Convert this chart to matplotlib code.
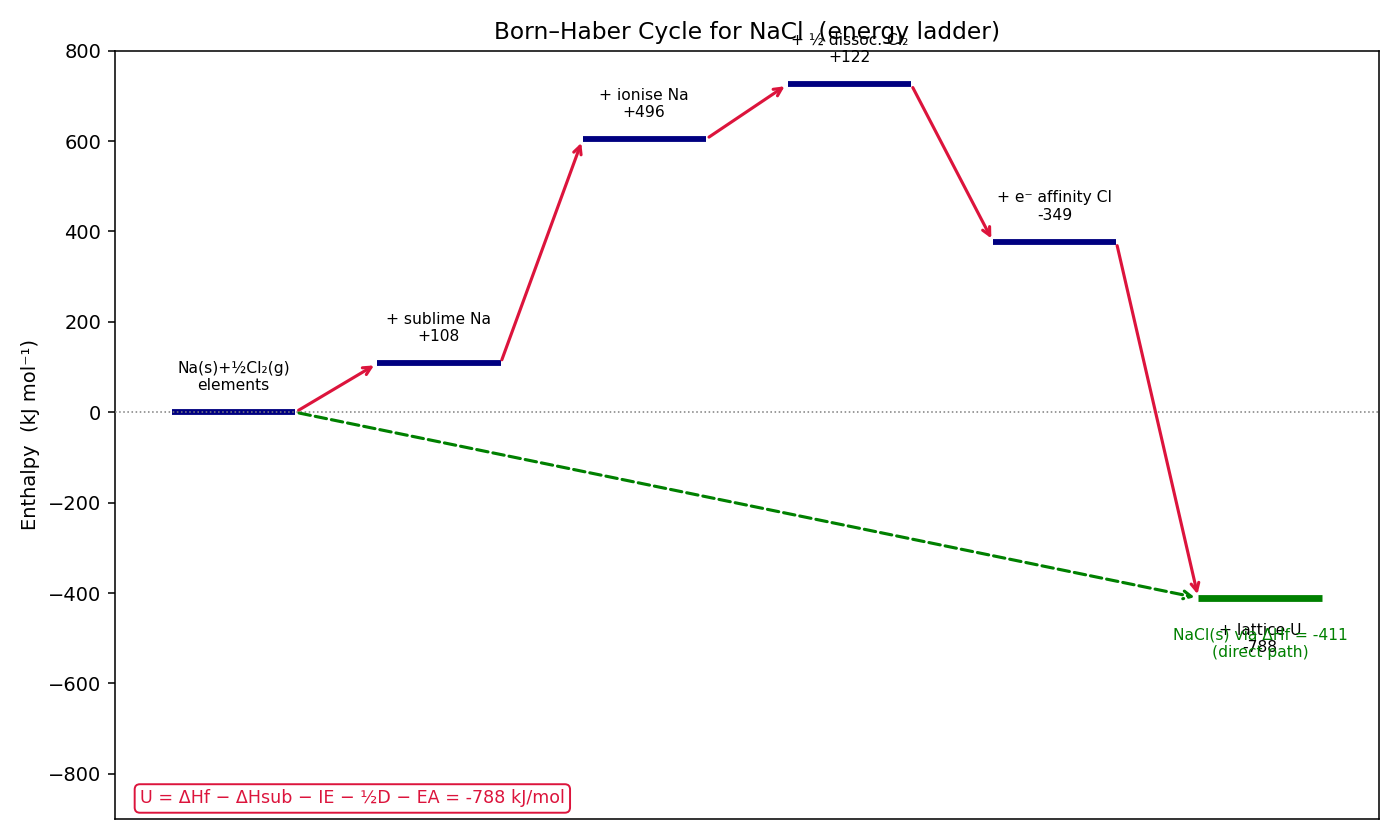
import matplotlib
matplotlib.use("Agg")
import matplotlib.pyplot as plt

steps = ["Na(s)+½Cl₂(g)\nelements", "+ sublime Na\n+108", "+ ionise Na\n+496",
         "+ ½ dissoc. Cl₂\n+122", "+ e⁻ affinity Cl\n-349", "+ lattice U\n-788"]
deltas = [0, 108, 496, 122, -349, -788]
dHf = -411

levels = []
acc = 0
for d in deltas:
    acc += d
    levels.append(acc)

fig, ax = plt.subplots(figsize=(10, 6), dpi=140)
w = 0.3
for i, (lv, lab) in enumerate(zip(levels, steps)):
    last = i == len(levels) - 1
    col = "green" if last else "navy"
    ax.hlines(lv, i - w, i + w, color=col, lw=3.5 if last else 3)
    if last:
        ax.text(i, lv - 55, lab, ha="center", va="top", fontsize=8)
    else:
        ax.text(i, lv + 42, lab, ha="center", va="bottom", fontsize=8)
ax.axhline(0, color="gray", lw=0.8, ls=":", zorder=3)
for i in range(len(levels) - 1):
    ax.annotate("", xy=(i + 1 - w, levels[i + 1]), xytext=(i + w, levels[i]),
                arrowprops=dict(arrowstyle="->", color="crimson", lw=1.6))
n = len(levels) - 1
ax.annotate("", xy=(n - w, dHf), xytext=(w, 0),
            arrowprops=dict(arrowstyle="->", color="green", lw=1.6, ls="--"))
ax.text(n, dHf - 65, f"NaCl(s) via ΔHf = {dHf}\n(direct path)", ha="center", va="top",
        fontsize=8, color="green")
ax.text(0.02, 0.015, f"U = ΔHf − ΔHsub − IE − ½D − EA = {deltas[-1]} kJ/mol",
        transform=ax.transAxes, fontsize=9, color="crimson", va="bottom", ha="left",
        bbox=dict(boxstyle="round,pad=0.3", fc="white", ec="crimson"))
ax.set_ylim(-900, 800)
ax.set_xticks([])
ax.set_ylabel("Enthalpy  (kJ mol⁻¹)")
ax.set_title("Born–Haber Cycle for NaCl  (energy ladder)")
fig.tight_layout()
fig.savefig("out.png")
